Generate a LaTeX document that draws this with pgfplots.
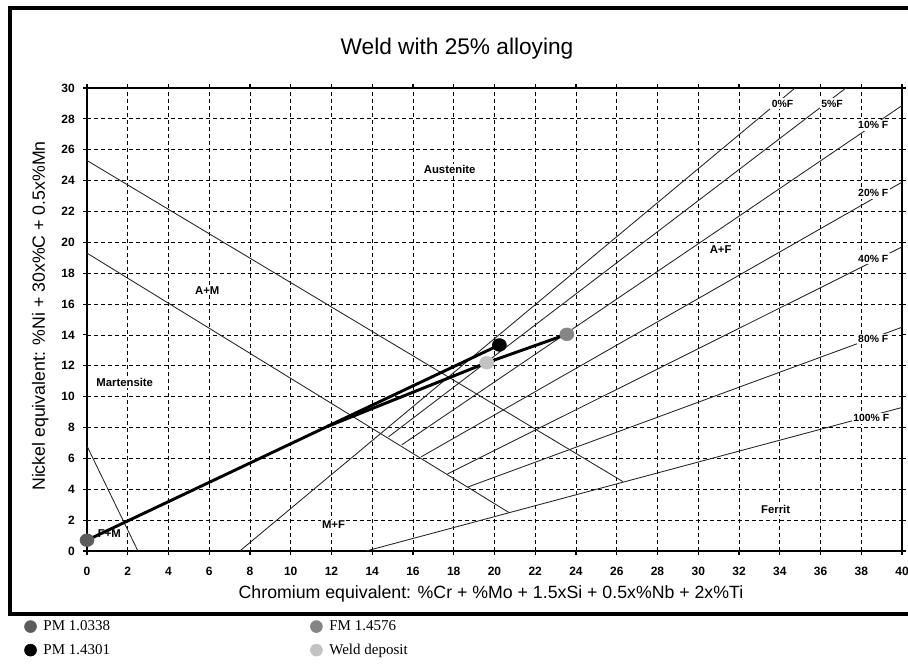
\documentclass[border=0pt]{standalone}
\usepackage{fontspec}
\setmainfont{Liberation Sans}
\newfontfamily\legendfont{Liberation Serif}
\usepackage{pgfplots}
\pgfplotsset{compat=1.18}

\definecolor{pmlow}{gray}{0.36}
\definecolor{fmgray}{gray}{0.52}
\definecolor{welddep}{gray}{0.76}

\tikzset{
  phase/.style={black!85, line width=0.65pt},
  weldline/.style={black, line width=2.2pt},
  region/.style={font=\bfseries\fontsize{8.5}{10}\selectfont, fill=white, inner sep=1pt},
  ferrite/.style={font=\bfseries\fontsize{7.8}{9}\selectfont, fill=white, inner sep=1.2pt},
}

\begin{document}
\begin{tikzpicture}
% page of 908 x 670 units (1 unit = 0.75pt), y pointing down
\useasboundingbox (0pt,0pt) rectangle (681pt,-502.5pt);
\fill[white] (0pt,0pt) rectangle (681pt,-502.5pt);

\begin{axis}[
  at={(65.25pt,-413.25pt)}, anchor=south west,
  scale only axis, width=611.25pt, height=347.25pt,
  xmin=0, xmax=40, ymin=0, ymax=30,
  xtick={0,2,...,40}, ytick={0,2,...,30},
  grid=major,
  major grid style={black, line width=0.6pt, dash pattern=on 3pt off 2.25pt},
  axis line style={line width=2pt},
  tick align=outside, major tick length=3pt,
  tick style={black, line width=0.8pt},
  tick label style={font=\bfseries\fontsize{9}{10}\selectfont},
  /pgf/number format/assume math mode=true,
  xticklabel style={yshift=-5.6pt},
  yticklabel style={xshift=-2.6pt},
  legend columns=2,
  legend cell align=left,
  legend style={
    at={(-0.0773,-0.1440)}, anchor=north west,
    draw=none, fill=none, inner sep=0pt,
    font=\legendfont\fontsize{11.25}{13}\selectfont,
    /tikz/every odd column/.append style={column sep=3pt},
    /tikz/every even column/.append style={column sep=148pt},
    row sep=4.5pt,
  },
]

% phase boundaries
\addplot[phase, forget plot] coordinates {(0,25.3) (26.3,4.5)};
\addplot[phase, forget plot] coordinates {(0,19.3) (20.7,2.5)};
\addplot[phase, forget plot] coordinates {(0,6.8) (2.5,0)};
% iso-ferrite lines
\addplot[phase, forget plot] coordinates {(7.5,0) (34.75,30)};
\addplot[phase, forget plot] coordinates {(14.8,7.4) (37.25,30)};
\addplot[phase, forget plot] coordinates {(15.45,6.88) (40,28.86)};
\addplot[phase, forget plot] coordinates {(16.4,6.1) (40,23.9)};
\addplot[phase, forget plot] coordinates {(17.7,5.0) (40,19.7)};
\addplot[phase, forget plot] coordinates {(18.7,4.15) (40,14.5)};
\addplot[phase, forget plot] coordinates {(13.7,0) (40,9.3)};

% ferrite labels
\node[ferrite] at (axis cs:34.14,29.0) {0\%F};
\node[ferrite] at (axis cs:36.57,29.0) {5\%F};
\node[ferrite] at (axis cs:38.59,27.58) {10\% F};
\node[ferrite] at (axis cs:38.59,23.18) {20\% F};
\node[ferrite] at (axis cs:38.59,18.94) {40\% F};
\node[ferrite] at (axis cs:38.59,13.73) {80\% F};
\node[ferrite] at (axis cs:38.49,8.6) {100\% F};

% region names
\node[region] at (axis cs:17.8,24.7) {Austenite};
\node[region] at (axis cs:5.9,16.9) {A+M};
\node[region] at (axis cs:1.85,10.9) {Martensite};
\node[region] at (axis cs:31.1,19.5) {A+F};
\node[region] at (axis cs:12.1,1.7) {M+F};
\node[region] at (axis cs:33.8,2.7) {Ferrit};

% dilution construction
\addplot[weldline, forget plot] coordinates {(0,0.7) (20.24,13.35)};
\addplot[weldline, forget plot] coordinates {(23.55,14.04) (19.62,12.2) (11.8,8.07)};

\node[region, fill=none] at (axis cs:1.1,1.1) {F+M};

% materials
\addplot[only marks, mark=*, mark size=4.8pt, mark options={xscale=1.1, draw=pmlow, fill=pmlow},
  legend image code/.code={\fill[pmlow] (0pt,0pt) circle (4.5pt);}]
  coordinates {(0,0.7)};
\addlegendentry{PM 1.0338}
\addplot[only marks, mark=*, mark size=4.8pt, mark options={xscale=1.1, draw=fmgray, fill=fmgray},
  legend image code/.code={\fill[fmgray] (0pt,0pt) circle (4.5pt);}]
  coordinates {(23.55,14.04)};
\addlegendentry{FM 1.4576}
\addplot[only marks, mark=*, mark size=4.8pt, mark options={xscale=1.1, draw=black, fill=black},
  legend image code/.code={\fill[black] (0pt,0pt) circle (4.5pt);}]
  coordinates {(20.24,13.35)};
\addlegendentry{PM 1.4301}
\addplot[only marks, mark=*, mark size=4.8pt, mark options={xscale=1.1, draw=welddep, fill=welddep},
  legend image code/.code={\fill[welddep] (0pt,0pt) circle (4.5pt);}]
  coordinates {(19.62,12.2)};
\addlegendentry{Weld deposit}
\end{axis}

\begin{scope}[x=0.75pt,y=-0.75pt]
  % chart frame
  \draw[line width=3pt] (9.5,8.5) rectangle (930,614);
  \node[anchor=base, font=\fontsize{17}{20}\selectfont] at (457,55) {Weld with 25\% alloying};
  \node[anchor=base, font=\fontsize{13.3}{16}\selectfont] at (491,599)
    {Chromium equivalent: \%Cr + \%Mo + 1.5xSi + 0.5x\%Nb + 2x\%Ti};
  \node[anchor=base, rotate=90, font=\fontsize{13.3}{16}\selectfont] at (45,316)
    {Nickel equivalent: \%Ni + 30x\%C + 0.5x\%Mn};
\end{scope}
\end{tikzpicture}
\end{document}
